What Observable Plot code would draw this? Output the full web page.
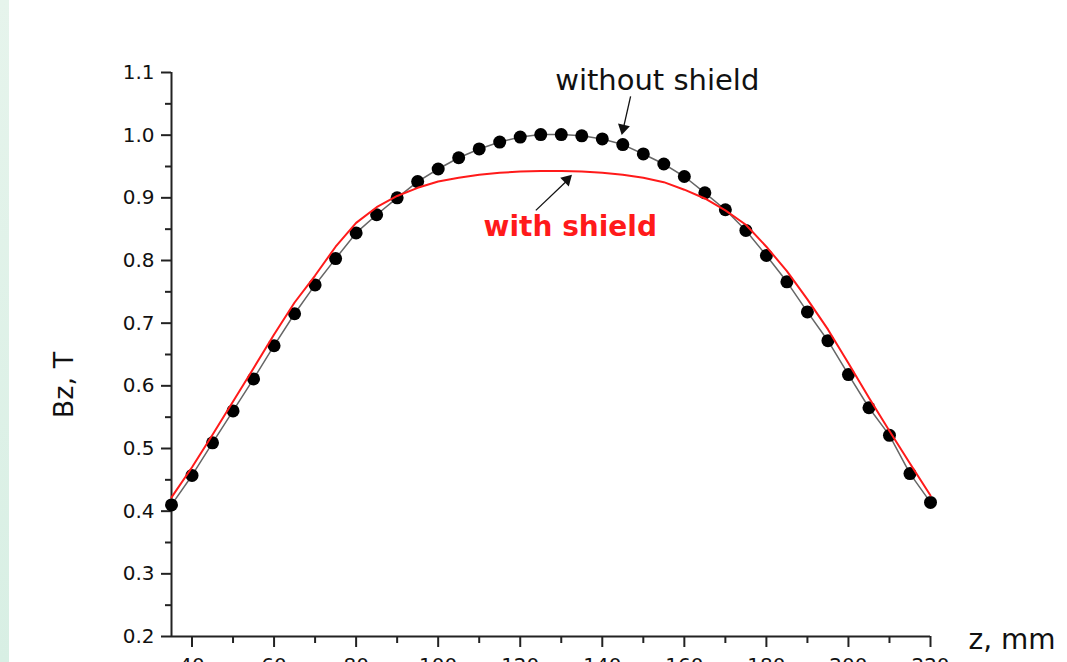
<!DOCTYPE html>
<html>
<head>
<meta charset="utf-8">
<script src="https://cdn.jsdelivr.net/npm/d3@7"></script>
<script src="https://cdn.jsdelivr.net/npm/@observablehq/plot@0.6"></script>
<style>
  html, body { margin: 0; padding: 0; background: #ffffff; overflow: hidden; }
  #strip { position: absolute; left: 0; top: 0; width: 9px; height: 662px;
           background: linear-gradient(#e6f4ec, #d8efe4); }
  #chart { position: absolute; left: 0; top: 0; }
</style>
</head>
<body>
<div id="strip"></div>
<div id="chart"></div>
<script>
// z positions (mm)
const zValues = [35,40,45,50,55,60,65,70,75,80,85,90,95,100,105,110,115,120,125,130,
                 135,140,145,150,155,160,165,170,175,180,185,190,195,200,205,210,215,220];
// Bz without shield (dots)
const bzWithout = [0.410,0.457,0.509,0.560,0.611,0.664,0.715,0.761,0.803,0.844,0.873,0.900,0.926,0.946,0.964,0.978,0.989,0.997,1.001,1.001,
                   0.999,0.994,0.985,0.970,0.954,0.934,0.908,0.881,0.848,0.808,0.766,0.718,0.672,0.618,0.565,0.521,0.460,0.414];
// Bz with shield (red line)
const bzWith = [0.422,0.470,0.522,0.575,0.628,0.682,0.733,0.776,0.822,0.860,0.885,0.903,0.916,0.926,0.932,0.937,0.940,0.942,0.943,0.943,
                0.942,0.940,0.937,0.932,0.925,0.913,0.899,0.880,0.857,0.822,0.783,0.738,0.690,0.636,0.581,0.528,0.476,0.425];

const xMajorTicks = [40,60,80,100,120,140,160,180,200,220];
const xMinorTicks = [50,70,90,110,130,150,170,190,210];
const yMajorTicks = [0.2,0.3,0.4,0.5,0.6,0.7,0.8,0.9,1.0,1.1];
const yMinorTicks = [0.25,0.35,0.45,0.55,0.65,0.75,0.85,0.95,1.05];

const xDomain = [35, 220];
const yDomain = [0.2, 1.1];

// annotations (data coordinates)
const labelTexts = ["without shield", "with shield"];
const labelX = [153.4, 132.2];
const labelY = [1.087, 0.854];
const arrowFrom = [[146.9, 1.062], [123.8, 0.880]];
const arrowTo = [[145.2, 1.013], [131.2, 0.926]];
const headPos = [[145.1, 1.011], [131.4, 0.929]];
const headAngle = [192.5, 45];

const withoutData = zValues.map((z, i) => ({z, bz: bzWithout[i]}));
const withData = zValues.map((z, i) => ({z, bz: bzWith[i]}));
const labels = labelTexts.map((t, i) => ({t, x: labelX[i], y: labelY[i]}));
const links = arrowFrom.map((f, i) => ({x1: f[0], y1: f[1], x2: arrowTo[i][0], y2: arrowTo[i][1]}));
const heads = headPos.map((h, i) => ({x: h[0], y: h[1], a: headAngle[i]}));

const axisColor = "#222";

const chart = Plot.plot({
  width: 1067,
  height: 700,
  marginLeft: 171,
  marginRight: 137,
  marginTop: 72,
  marginBottom: 64,
  style: {background: "transparent", fontFamily: "'DejaVu Sans', sans-serif", color: "#111"},
  x: {domain: xDomain},
  y: {domain: yDomain},
  marks: [
    Plot.axisX({ticks: xMajorTicks, tickSize: 11, tickPadding: 10, fontSize: 20, tickFormat: d => String(d), strokeWidth: 2, stroke: axisColor, label: null}),
    Plot.axisX({ticks: xMinorTicks, tickSize: 7, tickFormat: () => "", strokeWidth: 2, stroke: axisColor, label: null}),
    Plot.axisY({ticks: yMajorTicks, tickSize: 10, tickPadding: 7, fontSize: 20, tickFormat: d => d.toFixed(1), strokeWidth: 2, stroke: axisColor, label: null}),
    Plot.axisY({ticks: yMinorTicks, tickSize: 6, tickFormat: () => "", strokeWidth: 2, stroke: axisColor, label: null}),
    Plot.ruleX([xDomain[0]], {stroke: axisColor, strokeWidth: 2}),
    Plot.ruleY([yDomain[0]], {stroke: axisColor, strokeWidth: 2}),
    Plot.line(withoutData, {x: "z", y: "bz", stroke: "#666", strokeWidth: 1.5}),
    Plot.dot(withoutData, {x: "z", y: "bz", r: 6.5, fill: "#000", stroke: "none"}),
    Plot.line(withData, {x: "z", y: "bz", stroke: "#ff1a1a", strokeWidth: 2}),
    Plot.link(links, {x1: "x1", y1: "y1", x2: "x2", y2: "y2", stroke: "#111", strokeWidth: 1.3}),
    Plot.dot(heads, {x: "x", y: "y", symbol: "triangle", rotate: "a", r: 4.5, fill: "#111", stroke: "none"}),
    Plot.text([labels[0]], {x: "x", y: "y", text: "t", fontSize: 29, fill: "#111"}),
    Plot.text([labels[1]], {x: "x", y: "y", text: "t", fontSize: 28, fontWeight: "bold", fill: "#ff1a1a"})
  ]
});

const svg = d3.select(chart);
svg.style("overflow", "visible");
// axis titles as real text
svg.append("text")
  .attr("transform", "translate(73,385) rotate(-90)")
  .attr("text-anchor", "middle")
  .attr("font-size", 27)
  .attr("fill", "#111")
  .text("Bz, T");
svg.append("text")
  .attr("x", 1012)
  .attr("y", 649)
  .attr("text-anchor", "middle")
  .attr("font-size", 28)
  .attr("fill", "#111")
  .text("z, mm");

document.getElementById("chart").appendChild(chart);
</script>
</body>
</html>
